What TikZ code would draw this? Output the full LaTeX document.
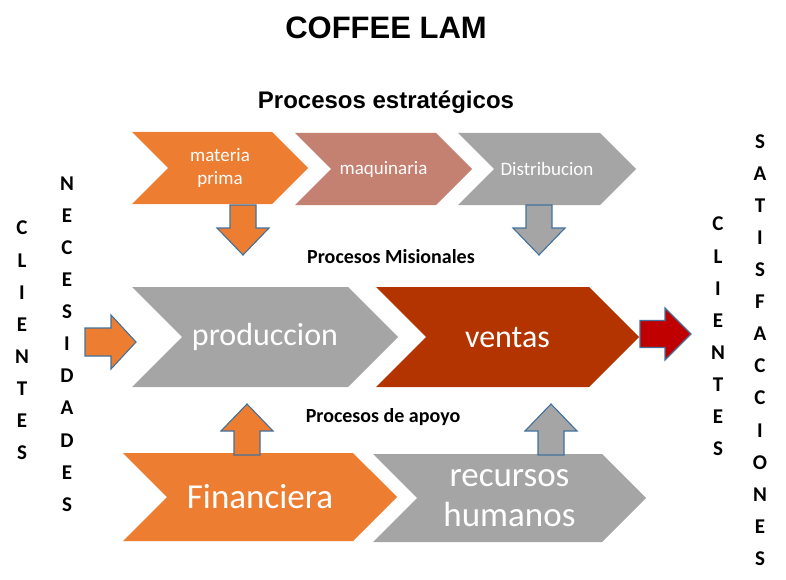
\documentclass[tikz,border=0pt]{standalone}
\usepackage{fontspec}
\setmainfont{Carlito}
\newfontfamily\arialfont{Liberation Sans}
\usepackage{tikz}
\usetikzlibrary{shapes.symbols}
\usepackage{xcolor}
\definecolor{naranja}{HTML}{ED7D31}
\definecolor{rosado}{HTML}{C48071}
\definecolor{gris}{HTML}{A5A5A5}
\definecolor{ladrillo}{HTML}{B43400}
\definecolor{rojo}{HTML}{C00000}
\definecolor{borde}{HTML}{41719C}

\begin{document}
\begin{tikzpicture}[
  x=1pt, y=-1pt,
  proceso/.style={signal, signal from=west, signal to=east, signal pointer angle=90,
    fill=#1, text=white, inner sep=0pt, align=center},
  flecha/.style={draw=borde, line width=1.1pt, line join=miter},
  letras/.style={font=\bfseries\fontsize{21}{32.1}\selectfont, align=center, inner sep=0pt},
  rotulo/.style={font=\bfseries\fontsize{20}{24}\selectfont, inner sep=0pt}
]
  \useasboundingbox (0,0) rectangle (786,580);

  % Titles
  \node[font=\arialfont\bfseries\fontsize{31}{36}\selectfont] (titulo) at (386,28) {COFFEE LAM};
  \node[font=\arialfont\bfseries\fontsize{24}{28}\selectfont] (estrat) at (386,102) {Procesos estrat\'egicos};

  % Top row -- strategic processes
  \node[proceso=naranja, minimum width=176, minimum height=72,
        font=\fontsize{19}{23}\selectfont] (mat)  at (220,168) {materia\\prima};
  \node[proceso=rosado, minimum width=177, minimum height=72,
        font=\fontsize{19}{23}\selectfont] (maq)  at (383.5,169) {maquinaria};
  \node[proceso=gris, minimum width=178, minimum height=72,
        font=\fontsize{19}{23}\selectfont] (dist) at (547,169) {Distribucion};

  \node[rotulo] (misio) at (391,257) {Procesos Misionales};

  % Middle row -- mission processes
  \node[proceso=gris, minimum width=266, minimum height=100,
        font=\fontsize{32}{38}\selectfont] (prod) at (265,337) {produccion};
  \node[proceso=ladrillo, minimum width=263, minimum height=100,
        font=\fontsize{32}{38}\selectfont] (vent) at (507.5,337) {ventas};

  \node[rotulo] (apoyo) at (383,417) {Procesos de apoyo};

  % Bottom row -- support processes
  \node[proceso=naranja, minimum width=274, minimum height=88,
        font=\fontsize{35}{40}\selectfont] (fin)  at (260,497) {Financiera};
  \node[proceso=gris, minimum width=273, minimum height=88,
        font=\fontsize{35}{40}\selectfont] (rrhh) at (509.5,498) {recursos\\humanos};

  % Block arrows between the rows
  \coordinate (d1) at (243,205);
  \coordinate (d2) at (539,205);
  \coordinate (u1) at (247,455);
  \coordinate (u2) at (551,455);
  \coordinate (e1) at (85,342);
  \coordinate (e2) at (640,334);

  \foreach \p/\c in {d1/naranja, d2/gris} {
    \draw[flecha, fill=\c] (\p) ++(-13,0) -- ++(26,0) -- ++(0,23) -- ++(13,0)
      -- ++(-26,27) -- ++(-26,-27) -- ++(13,0) -- cycle;
  }
  \foreach \p/\c in {u1/naranja, u2/gris} {
    \draw[flecha, fill=\c] (\p) ++(-13,0) -- ++(0,-24) -- ++(-13,0)
      -- ++(26,-27) -- ++(26,27) -- ++(-13,0) -- ++(0,24) -- cycle;
  }
  \draw[flecha, fill=naranja] (e1) ++(0,-14) -- ++(26,0) -- ++(0,-13)
    -- ++(25,27) -- ++(-25,27) -- ++(0,-13) -- ++(-26,0) -- cycle;
  \draw[flecha, fill=rojo] (e2) ++(0,-13.5) -- ++(25,0) -- ++(0,-12.5)
    -- ++(26,26) -- ++(-26,26) -- ++(0,-12.5) -- ++(-25,0) -- cycle;

  % Vertical words on both sides
  \node[letras] (cli1) at (22,340.5) {C\\L\\I\\E\\N\\T\\E\\S};
  \node[letras] (nec)  at (67,344)   {N\\E\\C\\E\\S\\I\\D\\A\\D\\E\\S};
  \node[letras] (cli2) at (718,336.5) {C\\L\\I\\E\\N\\T\\E\\S};
  \node[letras] (sat)  at (760,350)  {S\\A\\T\\I\\S\\F\\A\\C\\C\\I\\O\\N\\E\\S};

\end{tikzpicture}
\end{document}
